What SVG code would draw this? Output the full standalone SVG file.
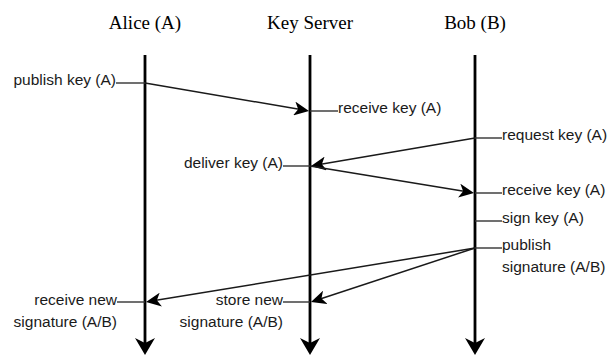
<svg xmlns="http://www.w3.org/2000/svg" width="610" height="356" viewBox="0 0 610 356">
<style>
.hdr{font-family:"Liberation Serif","Times New Roman",serif;font-size:19px;fill:#000;text-anchor:middle}
.lbl{font-family:"Liberation Sans",Arial,sans-serif;font-size:15.5px;fill:#1a1a1a}
.end{text-anchor:end}
.life{stroke:#000;stroke-width:2.8;fill:none}
.msg{stroke:#1a1a1a;stroke-width:1.5;fill:none}
.tick{stroke:#333;stroke-width:1.4;fill:none}
</style>
<defs>
<marker id="lifeArrow" viewBox="0 -10 17 20" markerWidth="17" markerHeight="20" refX="12" refY="0" orient="auto" markerUnits="userSpaceOnUse">
<path d="M17,0 L0,-10 L5,0 L0,10 Z" fill="#000"/>
</marker>
<marker id="msgArrow" viewBox="0 -7 15 14" markerWidth="15" markerHeight="14" refX="11" refY="0" orient="auto" markerUnits="userSpaceOnUse">
<path d="M15,0 L0,-7 L4,0 L0,7 Z" fill="#000"/>
</marker>
</defs>

<g id="alice">
<text class="hdr" x="145" y="29">Alice (A)</text>
<line class="life" x1="145" y1="55" x2="145" y2="350" marker-end="url(#lifeArrow)"/>
</g>
<g id="keyserver">
<text class="hdr" x="310" y="29">Key Server</text>
<line class="life" x1="310" y1="55" x2="310" y2="350" marker-end="url(#lifeArrow)"/>
</g>
<g id="bob">
<text class="hdr" x="475" y="29">Bob (B)</text>
<line class="life" x1="475" y1="55" x2="475" y2="350" marker-end="url(#lifeArrow)"/>
</g>

<g id="labels">
<g id="lbl-publish-key">
<text class="lbl end" x="116" y="85">publish key (A)</text>
<line class="tick" x1="116" y1="83" x2="145" y2="83"/>
</g>
<g id="lbl-receive-key-ks">
<text class="lbl" x="338" y="112.5">receive key (A)</text>
<line class="tick" x1="310" y1="111" x2="338" y2="111"/>
</g>
<g id="lbl-request-key">
<text class="lbl" x="502" y="139.5">request key (A)</text>
<line class="tick" x1="475" y1="138" x2="502" y2="138"/>
</g>
<g id="lbl-deliver-key">
<text class="lbl end" x="283" y="167.5">deliver key (A)</text>
<line class="tick" x1="283" y1="166" x2="310" y2="166"/>
</g>
<g id="lbl-receive-key-bob">
<text class="lbl" x="502" y="194.5">receive key (A)</text>
<line class="tick" x1="475" y1="193" x2="502" y2="193"/>
</g>
<g id="lbl-sign-key">
<text class="lbl" x="502" y="222.5">sign key (A)</text>
<line class="tick" x1="475" y1="221" x2="502" y2="221"/>
</g>
<g id="lbl-publish-sig">
<text class="lbl" x="502" y="250">publish</text>
<text class="lbl" x="502" y="272">signature (A/B)</text>
<line class="tick" x1="475" y1="248" x2="502" y2="248"/>
</g>
<g id="lbl-receive-sig">
<text class="lbl end" x="117" y="304.5">receive new</text>
<text class="lbl end" x="117" y="326.5">signature (A/B)</text>
<line class="tick" x1="117" y1="302" x2="145" y2="302"/>
</g>
<g id="lbl-store-sig">
<text class="lbl end" x="283" y="304.5">store new</text>
<text class="lbl end" x="283" y="326.5">signature (A/B)</text>
<line class="tick" x1="283" y1="302" x2="310" y2="302"/>
</g>
</g>

<g id="connectors">
<line class="msg" x1="145" y1="83" x2="305.06" y2="110.33" marker-end="url(#msgArrow)"/>
<line class="msg" x1="475" y1="138" x2="314.94" y2="165.33" marker-end="url(#msgArrow)"/>
<line class="msg" x1="310" y1="166" x2="470.05" y2="192.35" marker-end="url(#msgArrow)"/>
<line class="msg" x1="475" y1="248" x2="149.95" y2="301.35" marker-end="url(#msgArrow)"/>
<line class="msg" x1="475" y1="248" x2="314.80" y2="300.75" marker-end="url(#msgArrow)"/>
</g>
</svg>
